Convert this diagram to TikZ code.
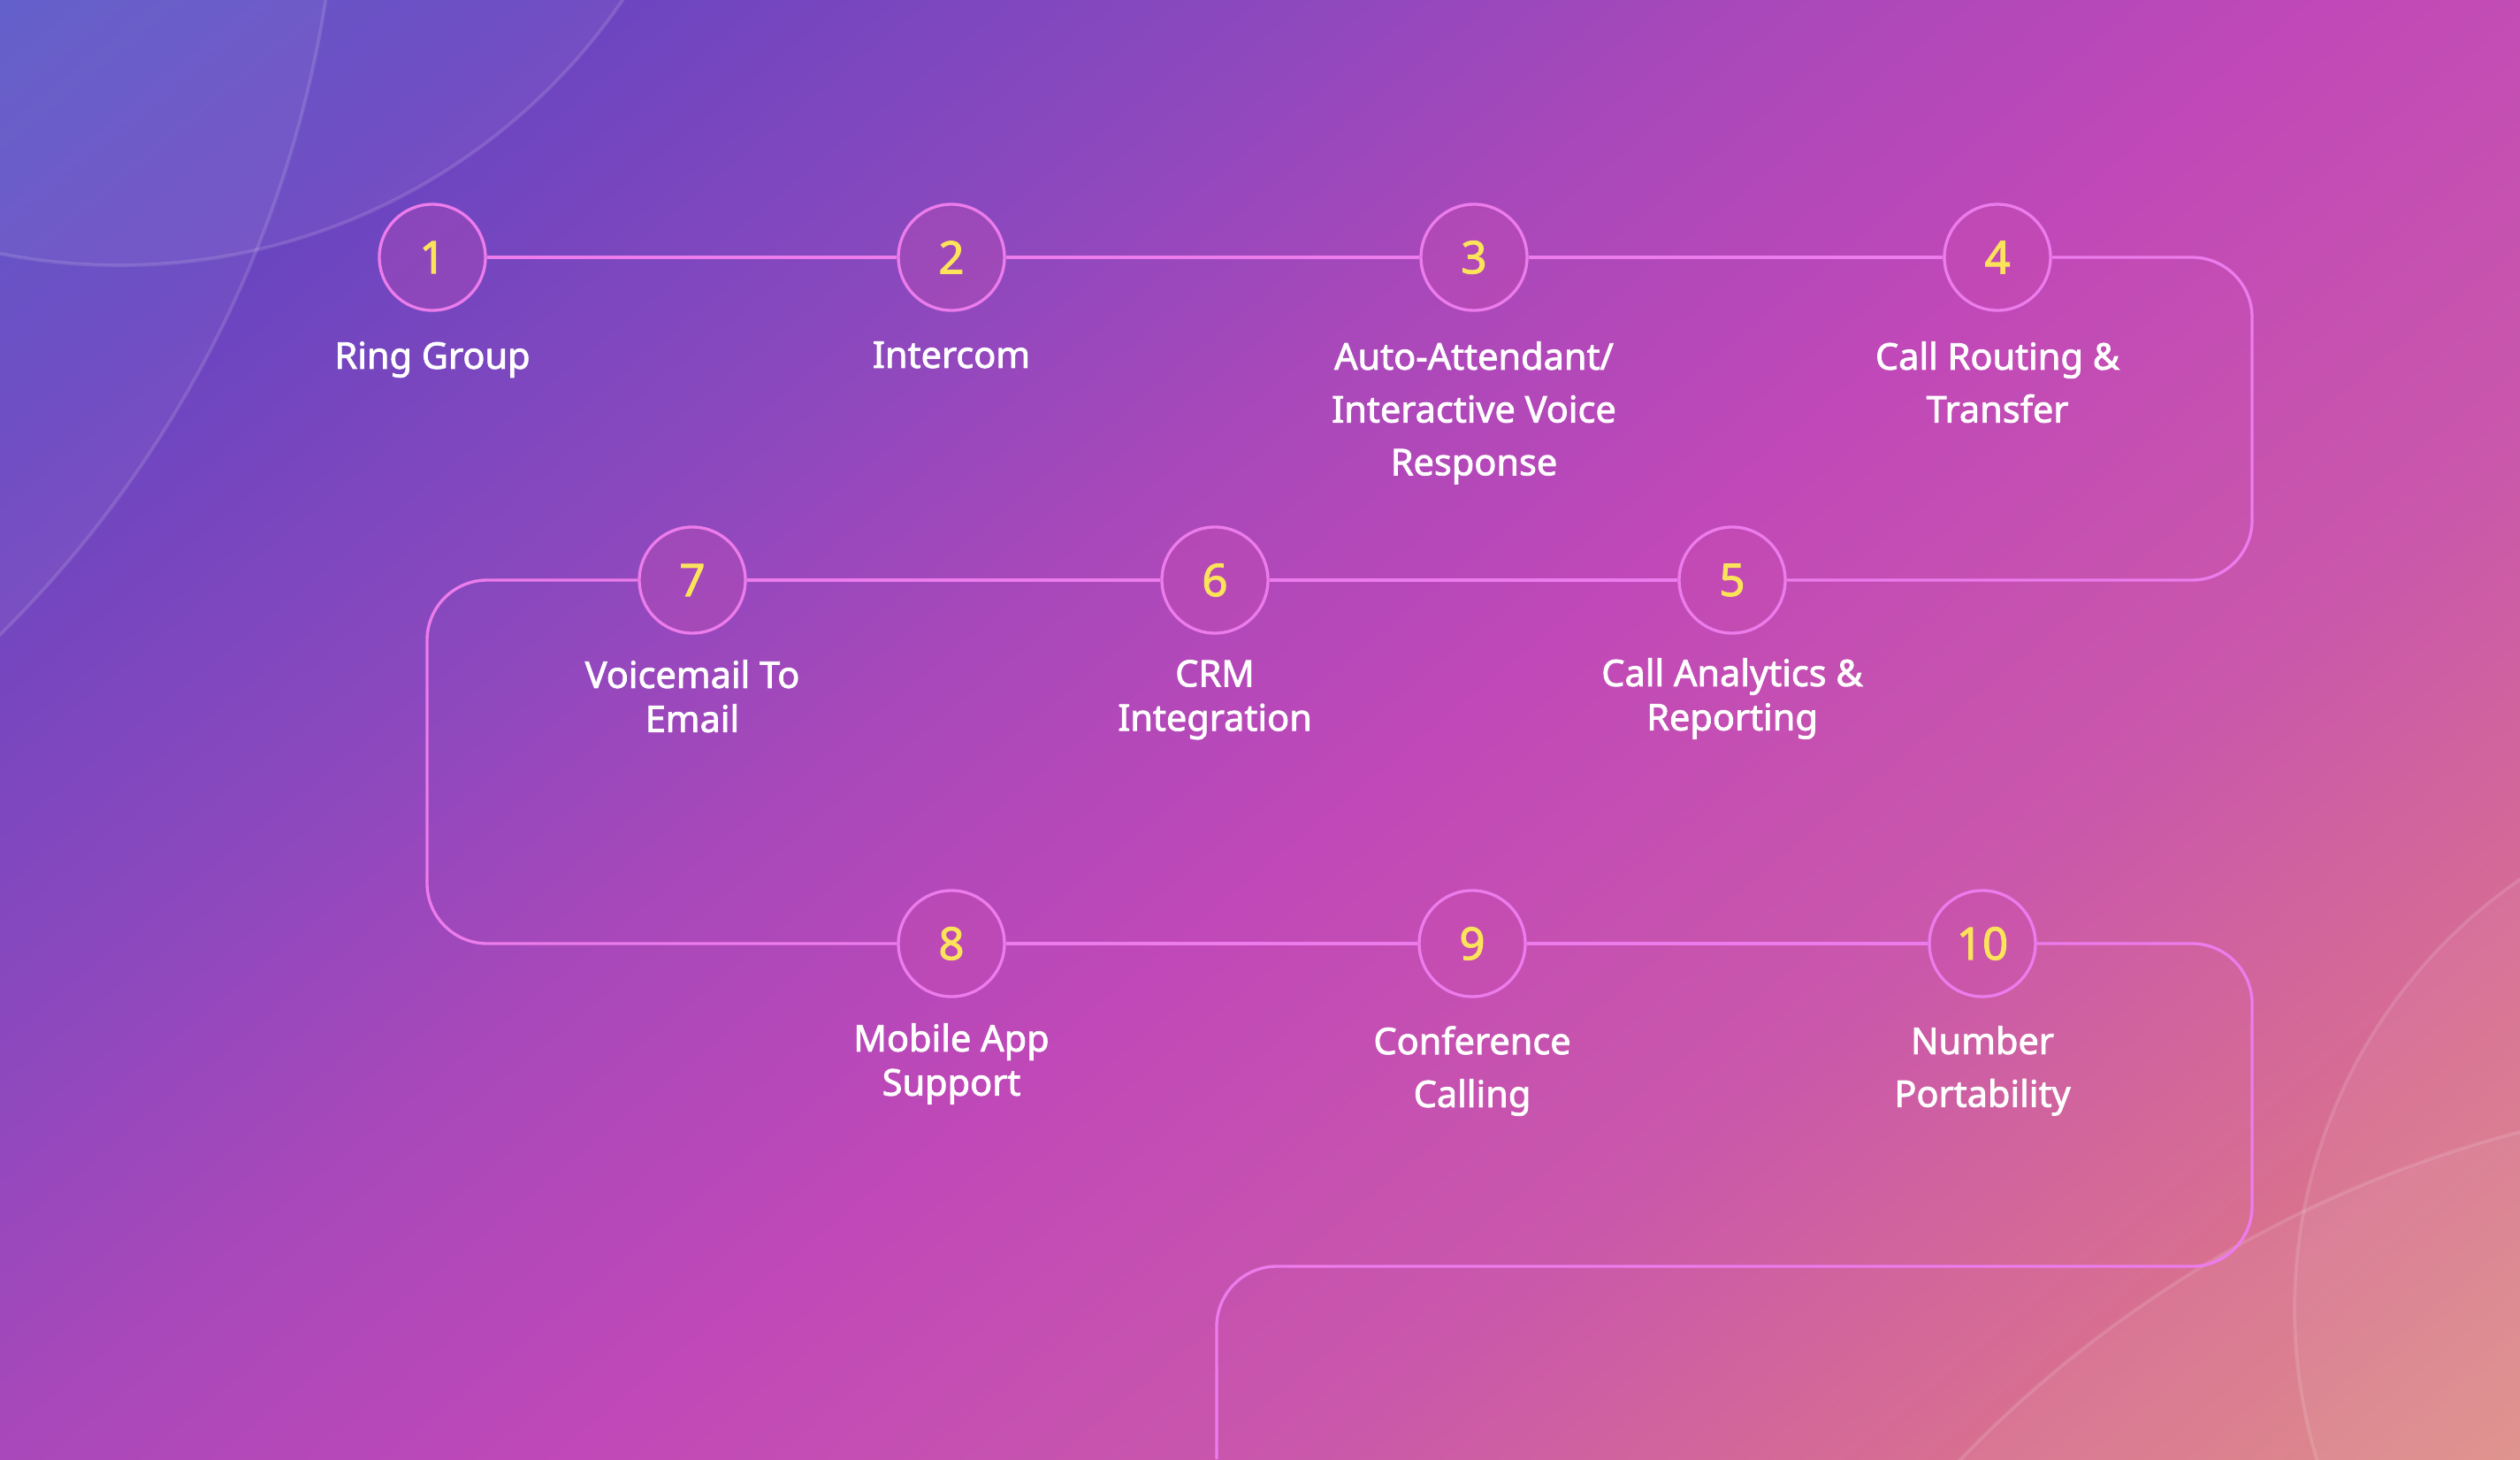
\documentclass[tikz,border=0pt]{standalone}
\usepackage{fontspec}
\setmainfont{Noto Sans}[UprightFeatures={FakeBold=2}]
\usepackage{tikz}
\usetikzlibrary{positioning}

\definecolor{bga}{HTML}{4F52C8}
\definecolor{bgb}{HTML}{6A45C0}
\definecolor{bgc}{HTML}{8A48BE}
\definecolor{bgd}{HTML}{A848BA}
\definecolor{bge}{HTML}{C048B8}
\definecolor{bgf}{HTML}{CA58AA}
\definecolor{bgg}{HTML}{D87090}
\definecolor{bgh}{HTML}{DE8E80}
\definecolor{linkpink}{HTML}{EC7CEC}
\definecolor{numyellow}{HTML}{FBE35A}
\definecolor{dotfill}{HTML}{C84CB0}

\pgfdeclarehorizontalshading{bgwash}{100bp}{color(0bp)=(bga); color(13bp)=(bga); color(24bp)=(bgb); color(35bp)=(bgc);
    color(43.5bp)=(bgd); color(53bp)=(bge); color(65.5bp)=(bgf); color(76.5bp)=(bgg); color(87bp)=(bgh); color(100bp)=(bgh)}

\begin{document}
\begin{tikzpicture}[
    stepdot/.style={circle, draw=linkpink, line width=0.95pt, fill=dotfill, fill opacity=0.3, text opacity=1,
        minimum size=1.2cm, inner sep=0pt, text=numyellow, font=\fontsize{14.5}{14.5}\selectfont},
    lbl/.style={text=white, align=center, inner sep=0pt, font=\fontsize{11.8}{17}\selectfont},
    lbltight/.style={lbl, font=\fontsize{11.8}{14.2}\selectfont},
    link/.style={draw=linkpink, line width=0.95pt},
    ring/.style={fill=white, fill opacity=0.05, draw=white, draw opacity=0.13, line width=1.1pt}]

    % Background
    \shade[shading=bgwash, shading angle=-50.4] (0,0) rectangle (28.5,16.5);
    \useasboundingbox (0,0) rectangle (28.5,16.5);
    \begin{scope}
        \clip (0,0) rectangle (28.5,16.5);
        \filldraw[ring] (1.35,20.4) circle (6.9);
        \filldraw[ring] (-9.10,18.52) circle (12.94);
        \filldraw[ring] (31.85,1.70) circle (5.9);
        \filldraw[ring] (31.94,-9.45) circle (13.59);
    \end{scope}

    % Steps
    \node[stepdot] (c1) at (4.89,13.59) {1};
    \node[stepdot] (c2) at (10.76,13.59) {2};
    \node[stepdot] (c3) at (16.67,13.59) {3};
    \node[stepdot] (c4) at (22.59,13.59) {4};
    \node[stepdot] (c5) at (19.59,9.94) {5};
    \node[stepdot] (c6) at (13.74,9.94) {6};
    \node[stepdot] (c7) at (7.83,9.94) {7};
    \node[stepdot] (c8) at (10.76,5.83) {8};
    \node[stepdot] (c9) at (16.65,5.83) {9};
    \node[stepdot] (c10) at (22.42,5.83) {10};

    % Labels
    \node[lbl, below=0.33cm of c1] (t1) {Ring Group};
    \node[lbl, below=0.33cm of c2] (t2) {Intercom};
    \node[lbl, below=0.33cm of c3] (t3) {Auto-Attendant/\\Interactive Voice\\Response};
    \node[lbl, below=0.33cm of c4] (t4) {Call Routing \&\\Transfer};
    \node[lbltight, below=0.26cm of c5] (t5) {Call Analytics \&\\Reporting};
    \node[lbltight, below=0.28cm of c6] (t6) {CRM\\Integration};
    \node[lbltight, below=0.28cm of c7] (t7) {Voicemail To\\Email};
    \node[lbltight, below=0.28cm of c8] (t8) {Mobile App\\Support};
    \node[lbl, below=0.31cm of c9] (t9) {Conference\\Calling};
    \node[lbl, below=0.31cm of c10] (t10) {Number\\Portability};

    % Path corners
    \coordinate (r1e) at (25.47,13.59);
    \coordinate (r2e) at (25.47,9.94);
    \coordinate (r2w) at (4.83,9.94);
    \coordinate (r3w) at (4.83,5.83);
    \coordinate (r3e) at (25.47,5.83);
    \coordinate (r4e) at (25.47,2.18);
    \coordinate (r4w) at (13.76,2.18);
    \coordinate (exit) at (13.76,0);

    % Connectors
    \draw[link] (c1) -- (c2);
    \draw[link] (c2) -- (c3);
    \draw[link] (c3) -- (c4);
    \draw[link, rounded corners=0.68cm] (c4) -- (r1e) -- (r2e) -- (c5);
    \draw[link] (c5) -- (c6);
    \draw[link] (c6) -- (c7);
    \draw[link, rounded corners=0.68cm] (c7) -- (r2w) -- (r3w) -- (c8);
    \draw[link] (c8) -- (c9);
    \draw[link] (c9) -- (c10);
    \draw[link, rounded corners=0.68cm] (c10) -- (r3e) -- (r4e) -- (r4w) -- (exit);

\end{tikzpicture}
\end{document}
